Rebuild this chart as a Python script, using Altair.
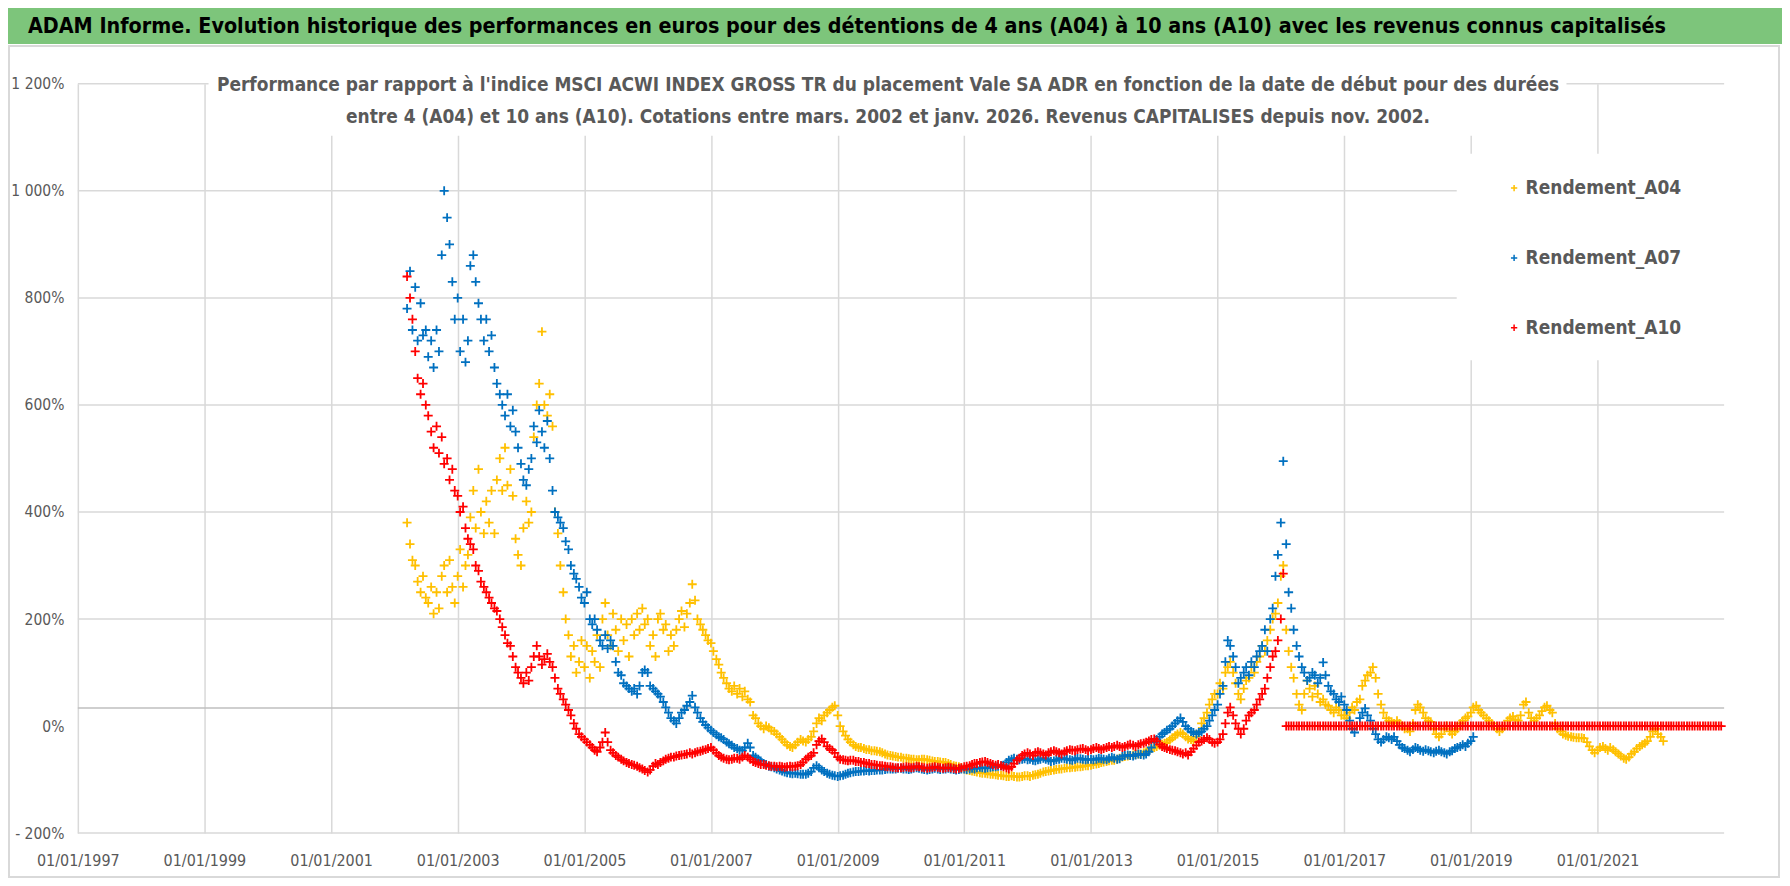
import altair as alt
import pandas as pd

# ---------------------------------------------------------------- texts
BANNER = ("ADAM Informe. Evolution historique des performances en euros pour des détentions "
          "de 4 ans (A04) à 10 ans (A10) avec les revenus connus capitalisés")
SUB1 = ("Performance par rapport à l'indice MSCI ACWI INDEX GROSS TR  du placement Vale SA ADR "
        "en fonction de la date de début pour des durées")
SUB2 = ("entre 4 (A04) et 10 ans (A10).  Cotations entre mars. 2002 et janv. 2026. "
        "Revenus CAPITALISES depuis nov. 2002.")

SERIES = ["Rendement_A04", "Rendement_A07", "Rendement_A10"]
COLORS = ["#FFC000", "#0070C0", "#FF0000"]

Y_TICKS = [-200, 0, 200, 400, 600, 800, 1000, 1200]
X_TICK_YEARS = [1997, 1999, 2001, 2003, 2005, 2007, 2009, 2011, 2013, 2015, 2017, 2019, 2021]
AXIS_CROSS = 34  # level of the horizontal axis line (%)

# ---------------------------------------------------------------- data (%), read every half month
A04_START = "2002-03-15"
A04_VALUES = [
    380, 340, 310, 300, 270, 250, 280, 240, 230, 260, 210, 250, 220, 280, 300, 250, 310, 260, 230,
    280, 330, 260, 300, 320, 390, 440, 370, 480, 400, 360, 420, 380, 440, 360, 460, 500, 440, 520, 450, 480, 430, 350, 320,
    300, 370, 420, 380, 400, 540, 600, 640, 737, 600, 580, 620, 560, 400, 360, 300, 250, 200, 170, 130, 150, 100, 120, 160,
    110, 150, 90, 140, 120, 170, 110, 200, 230, 170, 150, 210, 180, 140, 200, 160, 190, 130, 200, 170, 210, 180, 220, 190,
    200, 150, 170, 130, 200, 210, 180, 190, 140, 170, 150, 180, 200, 215, 185, 210, 230, 265, 235, 200, 190, 180, 170, 160,
    155, 140, 125, 115, 100, 90, 80, 70, 65, 75, 60, 70, 55, 65, 50, 45, 20, 15, 5, 0, -5, 0, -3, -8,
    -10, -15, -20, -25, -30, -35, -38, -40, -35, -30, -25, -28, -30, -25, -20, -10, 5, 15, 10, 20, 25, 30, 35, 38,
    20, 0, -10, -18, -25, -30, -35, -38, -40, -40, -42, -44, -44, -46, -46, -47, -48, -50, -52, -54, -55, -56, -57, -58,
    -58, -60, -60, -61, -62, -62, -63, -63, -62, -62, -63, -64, -65, -66, -66, -67, -68, -68, -70, -72, -74, -75, -76, -78,
    -80, -82, -83, -84, -85, -86, -87, -88, -88, -89, -90, -90, -91, -92, -92, -93, -94, -94, -93, -94, -95, -95, -94, -93,
    -93, -94, -92, -91, -90, -88, -86, -85, -84, -83, -82, -81, -80, -80, -79, -78, -78, -77, -77, -76, -76, -75, -74, -74,
    -73, -72, -71, -70, -68, -67, -66, -65, -64, -64, -62, -60, -58, -57, -56, -55, -54, -53, -52, -52, -50, -48, -45, -42,
    -40, -38, -36, -34, -32, -30, -26, -22, -18, -15, -12, -15, -20, -24, -25, -28, -20, -10, 5, 15, 25, 40, 50, 60,
    60, 80, 70, 100, 110, 120, 100, 80, 60, 50, 70, 85, 90, 110, 100, 120, 130, 150, 140, 160, 180, 200, 210, 230,
    280, 300, 180, 140, 110, 90, 60, 40, 30, 60, 85, 70, 55, 75, 60, 45, 50, 40, 38, 30, 25, 35, 30, 20,
    20, 15, 25, 35, 30, 45, 50, 75, 85, 95, 100, 110, 90, 60, 40, 25, 15, 10, 8, 5, 10, 5, 0, -5,
    -5, -10, 5, 30, 40, 35, 25, 15, 10, 8, -5, -15, -20, -15, -5, 0, -10, -15, -10, -5, 5, 10, 15, 18,
    25, 35, 38, 30, 25, 20, 15, 10, 5, 0, -5, -10, -5, 0, 10, 15, 18, 12, 10, 20, 40, 45, 25, 15,
    10, 15, 20, 28, 35, 38, 30, 25, 5, -5, -10, -15, -17, -19, -20, -21, -22, -22, -22, -23, -30, -38, -45, -50,
    -45, -40, -38, -42, -45, -40, -44, -48, -52, -56, -60, -62, -58, -52, -48, -42, -38, -35, -32, -28, -20, -10, -5, -15,
    -20, -28,
]

A07_START = "2002-03-15"
A07_VALUES = [
    780, 850, 740, 820, 720, 790, 730, 740, 690, 720, 670, 740, 700, 880, 1000, 950, 900, 830, 760,
    800, 700, 760, 680, 720, 860, 880, 830, 790, 760, 720, 760, 700, 730, 670, 640, 620, 600, 580, 620, 560, 590, 550, 520,
    490, 460, 450, 480, 500, 560, 530, 590, 550, 520, 570, 500, 440, 400, 390, 380, 370, 345, 330, 300, 285, 275, 260, 240,
    230, 250, 200, 190, 200, 180, 160, 150, 170, 145, 160, 150, 120, 100, 95, 80, 75, 70, 65, 70, 60, 75, 100, 105,
    100, 75, 70, 65, 60, 55, 45, 35, 25, 15, 10, 5, 15, 25, 30, 38, 45, 57, 35, 25, 15, 8, 2, -3,
    -8, -12, -16, -20, -22, -25, -30, -33, -36, -40, -42, -45, -46, -40, -32, -40, -55, -58, -62, -65, -70, -72, -75, -76,
    -78, -80, -82, -84, -86, -87, -88, -89, -88, -89, -90, -90, -90, -88, -85, -78, -74, -78, -82, -85, -88, -90, -92, -93,
    -94, -93, -92, -90, -88, -87, -86, -85, -85, -84, -84, -83, -84, -83, -83, -82, -82, -82, -81, -80, -80, -80, -80, -79,
    -79, -80, -80, -81, -80, -79, -78, -79, -80, -81, -82, -81, -80, -79, -80, -81, -80, -80, -79, -80, -81, -82, -81, -80,
    -80, -81, -80, -79, -80, -78, -77, -78, -79, -78, -77, -76, -76, -75, -74, -73, -68, -64, -62, -60, -62, -63, -62, -61,
    -63, -62, -64, -65, -63, -62, -60, -62, -64, -66, -65, -63, -62, -60, -61, -62, -63, -64, -62, -60, -61, -62, -63, -62,
    -62, -63, -62, -60, -61, -62, -63, -60, -58, -60, -62, -61, -57, -55, -54, -55, -56, -54, -52, -53, -54, -52, -48, -40,
    -30, -25, -20, -15, -12, -8, -5, 0, 5, 10, 15, 8, 0, -5, -10, -12, -15, -12, -10, -5, 0, 10, 20, 30,
    40, 60, 75, 120, 160, 150, 130, 110, 80, 90, 100, 110, 95, 120, 110, 130, 140, 150, 180, 140, 200, 220, 280, 320,
    380, 495, 340, 250, 220, 180, 150, 130, 110, 100, 85, 90, 100, 95, 80, 90, 119, 95, 75, 65, 60, 50, 45, 55,
    40, 30, 10, -5, -12, 0, 15, 25, 33, 20, 10, -5, -15, -25, -30, -25, -20, -22, -25, -20, -28, -35, -40, -42,
    -45, -48, -44, -40, -42, -45, -47, -44, -46, -48, -50, -47, -45, -48, -50, -52, -48, -46, -42, -40, -38, -35, -38, -32,
    -28, -20,
]

A10_START = "2002-03-15"
A10_VALUES = [
    840, 800, 760, 700, 650, 620, 640, 600, 580, 550, 520, 560, 510, 540, 490, 500, 460, 480, 440,
    430, 400, 410, 370, 350, 340, 330, 300, 290, 270, 260, 250, 240, 230, 220, 215, 200, 185, 170, 155, 150, 130, 110, 100,
    90, 80, 100, 85, 110, 130, 150, 130, 115, 125, 135, 120, 110, 90, 70, 60, 50, 40, 30, 20, 5, -5, -15, -20,
    -25, -30, -35, -40, -45, -48, -40, -30, -12, -30, -45, -50, -55, -58, -62, -65, -68, -70, -72, -73, -75, -78, -80, -83,
    -86, -82, -75, -70, -72, -68, -65, -62, -60, -58, -58, -56, -55, -54, -53, -52, -50, -52, -50, -48, -47, -45, -44, -42,
    -40, -45, -50, -55, -58, -60, -62, -63, -62, -60, -60, -62, -58, -55, -58, -62, -66, -68, -70, -72, -72, -73, -74, -75,
    -75, -76, -75, -76, -77, -76, -75, -76, -75, -74, -72, -68, -62, -58, -55, -50, -35, -28, -24, -30, -38, -42, -45, -50,
    -58, -62, -63, -64, -65, -64, -64, -66, -66, -68, -68, -70, -70, -72, -72, -73, -74, -74, -75, -76, -76, -77, -78, -78,
    -78, -77, -76, -77, -78, -77, -75, -76, -77, -78, -79, -78, -77, -76, -77, -78, -79, -78, -77, -78, -79, -80, -79, -78,
    -76, -75, -74, -72, -70, -70, -68, -67, -66, -68, -70, -72, -73, -72, -74, -76, -78, -80, -76, -70, -64, -60, -55, -52,
    -50, -52, -55, -50, -48, -50, -52, -54, -50, -48, -46, -48, -50, -52, -48, -46, -44, -45, -46, -44, -43, -42, -44, -46,
    -44, -42, -40, -42, -44, -42, -40, -38, -40, -38, -36, -38, -40, -38, -36, -34, -36, -38, -35, -33, -32, -30, -28, -25,
    -24, -28, -34, -38, -40, -42, -44, -45, -46, -48, -50, -52, -50, -54, -48, -42, -36, -30, -28, -25, -22, -25, -30, -32,
    -30, -25, -15, 5, 25, 35, 20, 5, -5, -15, -5, 10, 20, 25, 30, 40, 50, 60, 70, 90, 110, 130, 140, 160,
    200, 285,
]

A10_TAIL_START = "2016-02-01"
A10_TAIL_VALUES = [
    0, 0, 0, 0, 0, 0, 0, 0, 0, 0, 0, 0, 0, 0, 0, 0, 0, 0, 0, 0, 0, 0,
    0, 0, 0, 0, 0, 0, 0, 0, 0, 0, 0, 0, 0, 0, 0, 0, 0, 0, 0, 0, 0, 0, 0, 0,
    0, 0, 0, 0, 0, 0, 0, 0, 0, 0, 0, 0, 0, 0, 0, 0, 0, 0, 0, 0, 0, 0, 0, 0,
    0, 0, 0, 0, 0, 0, 0, 0, 0, 0, 0, 0, 0, 0, 0, 0, 0, 0, 0, 0, 0, 0, 0, 0,
    0, 0, 0, 0, 0, 0, 0, 0, 0, 0, 0, 0, 0, 0, 0, 0, 0, 0, 0, 0, 0, 0, 0, 0,
    0, 0, 0, 0, 0, 0, 0, 0, 0, 0, 0, 0, 0, 0, 0, 0, 0, 0, 0, 0, 0, 0, 0, 0,
    0, 0, 0, 0, 0, 0, 0, 0, 0, 0, 0, 0, 0, 0, 0, 0, 0, 0, 0, 0, 0, 0, 0, 0,
]

# ---------------------------------------------------------------- styling
FONT = "DejaVu Sans Condensed"
GREY_TXT = "#595959"
GRID = "#D9D9D9"
PLUS = "M-1,0H1M0,-1V1"
W, H = 1650, 751


def frame(start, values, name):
    dates = pd.date_range(start, periods=len(values), freq="SMS")
    return pd.DataFrame({"date": dates.strftime("%Y-%m-%d"), "value": values, "serie": name})


df = pd.concat([
    frame(A04_START, A04_VALUES, SERIES[0]),
    frame(A07_START, A07_VALUES, SERIES[1]),
    frame(A10_START, A10_VALUES, SERIES[2]),
    frame(A10_TAIL_START, A10_TAIL_VALUES, SERIES[2]),
], ignore_index=True)
df["ord"] = range(len(df))

grid_df = pd.DataFrame({"value": [v for v in Y_TICKS if v != 0]})
one = pd.DataFrame({"k": [0]})

x_scale = alt.Scale(type="utc",
                    domain=[alt.DateTime(year=1997, month=1, date=1, utc=True),
                            alt.DateTime(year=2023, month=1, date=1, utc=True)])
y_scale = alt.Scale(domain=[-200, 1200], nice=False, zero=False)

y_label_expr = ("(datum.value < 0 ? '- ' : '') + (abs(datum.value) >= 1000 ? "
                "floor(abs(datum.value) / 1000) + ' ' + format(abs(datum.value) % 1000, '03d') : "
                "format(abs(datum.value), 'd')) + '%'")

x_axis = alt.Axis(values=[alt.DateTime(year=y, month=1, date=1, utc=True) for y in X_TICK_YEARS],
                  labelExpr="utcFormat(datum.value, '%d/%m/%Y')", grid=True, gridColor=GRID, gridWidth=1.5,
                  domain=False, ticks=False, labelFont=FONT, labelFontSize=16, labelColor=GREY_TXT,
                  labelPadding=19, labelFlush=False, labelOverlap=False, title=None)
y_axis = alt.Axis(values=Y_TICKS, labelExpr=y_label_expr, grid=False, domain=False, ticks=False,
                  labelFont=FONT, labelFontSize=15.5, labelColor=GREY_TXT, labelPadding=14, title=None)

# background frame + banner
frame_rect = alt.Chart(one).mark_rect(fill="white", fillOpacity=0, stroke=GRID, strokeWidth=2).encode(
    x=alt.value(-69), x2=alt.value(1705), y=alt.value(-38), y2=alt.value(795))
banner = alt.Chart(one).mark_rect(fill="#7DC57B").encode(
    x=alt.value(-70), x2=alt.value(1708), y=alt.value(-76), y2=alt.value(-40))
banner_text = alt.Chart(one).mark_text(text=BANNER, font=FONT, fontSize=21.4, fontWeight="bold",
                                       color="black", align="left", baseline="alphabetic").encode(
    x=alt.value(-50), y=alt.value(-51))

hgrid = alt.Chart(grid_df).mark_rule(color=GRID, strokeWidth=1.5).encode(
    y=alt.Y("value:Q", scale=y_scale, title=None))
cross = alt.Chart(one).mark_rule(color="#BFBFBF", strokeWidth=1.5).encode(y=alt.datum(AXIS_CROSS))

title_box = alt.Chart(one).mark_rect(fill="white").encode(
    x=alt.value(131), x2=alt.value(1492), y=alt.value(-18), y2=alt.value(52))
legend_box = alt.Chart(one).mark_rect(fill="white").encode(
    x=alt.value(1382), x2=alt.value(1652), y=alt.value(70), y2=alt.value(277))

points = alt.Chart(df).mark_point(shape=PLUS, filled=False, size=81, strokeWidth=1.8, opacity=1).encode(
    x=alt.X("date:T", scale=x_scale, axis=x_axis),
    y=alt.Y("value:Q", scale=y_scale, axis=y_axis),
    color=alt.Color("serie:N", scale=alt.Scale(domain=SERIES, range=COLORS),
                    legend=alt.Legend(orient="none", legendX=1430, legendY=95, direction="vertical",
                                      title=None, symbolType=PLUS, symbolSize=40, symbolStrokeWidth=1.5,
                                      labelFont=FONT, labelFontSize=19, labelFontWeight="bold",
                                      labelColor=GREY_TXT, labelLimit=0, rowPadding=50, labelOffset=2,
                                      padding=0)),
    order=alt.Order("ord:Q"),
)

sub1 = alt.Chart(one).mark_text(text=SUB1, font=FONT, fontSize=19, fontWeight="bold", color=GREY_TXT,
                                align="center", baseline="alphabetic").encode(x=alt.value(812), y=alt.value(7))
sub2 = alt.Chart(one).mark_text(text=SUB2, font=FONT, fontSize=19, fontWeight="bold", color=GREY_TXT,
                                align="center", baseline="alphabetic").encode(x=alt.value(812), y=alt.value(39))

chart = alt.layer(
    frame_rect, banner, banner_text, hgrid, cross, title_box, legend_box, points, sub1, sub2
).properties(
    width=W, height=H,
    padding={"left": 70, "top": 75, "right": 58, "bottom": 46},
    autosize=alt.AutoSizeParams(type="none"),
    background="white",
).configure_view(stroke=None)

chart.save("out.html", embed_options={"renderer": "svg", "actions": False})
